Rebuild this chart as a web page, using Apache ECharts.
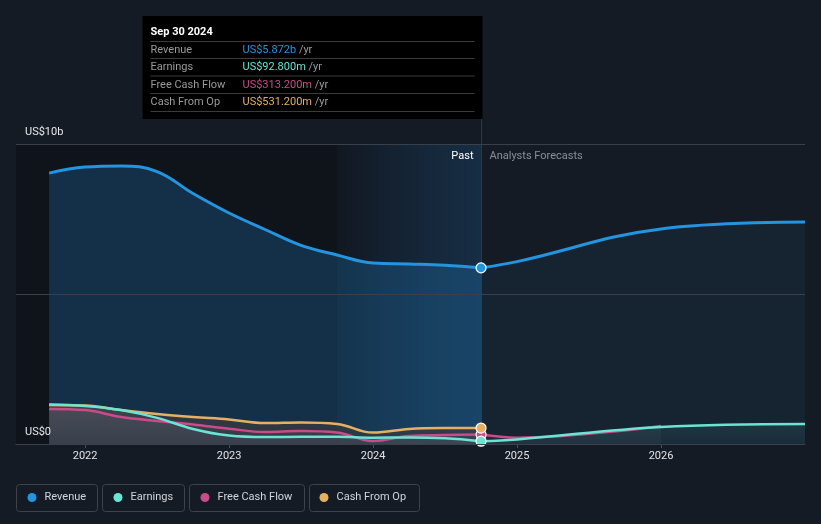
<!DOCTYPE html>
<html><head><meta charset="utf-8">
<script src="https://cdn.jsdelivr.net/npm/echarts@6/dist/echarts.min.js"></script>
<style>html,body{margin:0;padding:0;background:#151b24}#c{width:821px;height:524px}</style>
</head><body><div id="c"></div>
<script>
const pastDates = ['2021-09-30','2021-12-31','2022-03-31','2022-06-30','2022-09-30','2022-12-31','2023-03-31','2023-06-30','2023-09-30','2023-12-31','2024-03-31','2024-06-30','2024-09-30'];
const forecastDates = ['2024-09-30','2024-12-31','2025-12-31','2026-12-31'];
const revenuePast = [9.03, 9.23, 9.27, 9.08, 8.35, 7.70, 7.15, 6.62, 6.30, 6.03, 6.00, 5.96, 5.872];
const revenueForecast = [5.872, 6.08, 7.17, 7.40];
const earningsPast = [1.32, 1.27, 1.13, 0.87, 0.50, 0.28, 0.23, 0.24, 0.24, 0.21, 0.22, 0.19, 0.0928];
const earningsForecast = [0.0928, 0.15, 0.57, 0.67];
const fcfPast = [1.17, 1.13, 0.90, 0.77, 0.65, 0.51, 0.40, 0.43, 0.38, 0.10, 0.27, 0.30, 0.3132];
const fcfForecast = [0.3132, 0.21, 0.60];
const cfoPast = [1.30, 1.28, 1.13, 1.00, 0.90, 0.82, 0.70, 0.72, 0.67, 0.38, 0.50, 0.53, 0.5312];
const xTicks = [2022, 2023, 2024, 2025, 2026];
const seriesNames = ['Revenue', 'Earnings', 'Free Cash Flow', 'Cash From Op'];
const seriesColors = ['#2394df', '#6ae4d3', '#c94b88', '#e6b063'];
const tooltipDate = 'Sep 30 2024';
const tooltipValues = ['US$5.872b', 'US$92.800m', 'US$313.200m', 'US$531.200m'];
const pastLabel = 'Past';
const forecastLabel = 'Analysts Forecasts';

const FONT = 'Roboto, sans-serif';
const FS = 11;
const toYear = d => { const [y, m] = d.split('-').map(Number); return y + m / 12; };
const pair = (dates, vals) => vals.map((v, i) => [toYear(dates[i]), v]);
const lastPast = toYear(pastDates[pastDates.length - 1]);
const xMin = 2021.52, xMax = 2027;

const vgrad = (a, b) => ({type: 'linear', x: 0, y: 0, x2: 0, y2: 1, colorStops: [{offset: 0, color: a}, {offset: 1, color: b}]});

function lineSeries(name, color, data, width, area, z) {
  return {
    name, type: 'line', data, smooth: 0.4, symbol: 'none', z,
    lineStyle: {color, width}, itemStyle: {color},
    areaStyle: area ? {color: area, origin: 0} : undefined,
    silent: true, animation: false
  };
}

const chart = echarts.init(document.getElementById('c'), null, {renderer: 'canvas'});

const series = [
  {
    name: 'bg', type: 'line', data: [[xMin, 0]], symbol: 'none', lineStyle: {opacity: 0}, z: 0, silent: true,
    markArea: {
      silent: true,
      data: [
        [{xAxis: xMin, itemStyle: {color: 'rgba(0,0,0,0.28)'}}, {xAxis: toYear('2023-09-30')}],
        [{xAxis: toYear('2023-09-30'), itemStyle: {color: {type: 'linear', x: 0, y: 0, x2: 1, y2: 0, colorStops: [{offset: 0, color: 'rgba(8,16,26,0.3)'}, {offset: 1, color: 'rgba(30,110,180,0.22)'}]}}}, {xAxis: lastPast}]
      ]
    }
  },
  lineSeries('Revenue', seriesColors[0], pair(pastDates, revenuePast), 3, 'rgba(35,148,223,0.33)', 2),
  lineSeries('Revenue', seriesColors[0], pair(forecastDates, revenueForecast), 3, 'rgba(35,148,223,0.11)', 2),
  lineSeries('Cash From Op', seriesColors[3], pair(pastDates, cfoPast), 2.5, vgrad('rgba(66,61,66,0.97)', 'rgba(56,56,63,0.97)'), 3),
  lineSeries('Free Cash Flow', seriesColors[2], pair(pastDates, fcfPast), 2.5, vgrad('rgba(150,138,150,0.16)', 'rgba(130,130,140,0.1)'), 3),
  lineSeries('Free Cash Flow', seriesColors[2], pair(forecastDates, fcfForecast), 2.5, 'rgba(140,135,150,0.10)', 3),
  lineSeries('Earnings', seriesColors[1], pair(pastDates, earningsPast), 2.5, vgrad('rgba(150,138,150,0.18)', 'rgba(130,130,140,0.1)'), 3),
  lineSeries('Earnings', seriesColors[1], pair(forecastDates, earningsForecast), 2.5, vgrad('rgba(106,228,211,0.14)', 'rgba(106,228,211,0.06)'), 3)
];
const lastVals = [revenuePast, earningsPast, fcfPast, cfoPast].map(a => a[a.length - 1]);
seriesNames.forEach((n, i) => {
  series.push({
    name: n, type: 'scatter', data: [[lastPast, lastVals[i]]], symbol: 'circle', symbolSize: 10, z: i === 1 ? 6 : 5,
    itemStyle: {color: seriesColors[i], borderColor: '#ffffff', borderWidth: 1.2, opacity: 1}, silent: true, animation: false
  });
});

const legendLefts = [27.5, 113.5, 200.5, 319.5];
const legends = seriesNames.map((n, i) => ({
  data: [n], left: legendLefts[i], top: 492, padding: 0, itemWidth: 9, itemHeight: 9, icon: 'circle',
  selectedMode: false, itemStyle: {color: seriesColors[i]},
  textStyle: {color: '#d2d5da', fontSize: FS, fontFamily: FONT, padding: [0, 0, 0, 3]}
}));

chart.setOption({
  backgroundColor: '#151b24',
  animation: false,
  textStyle: {fontFamily: FONT},
  grid: {left: 16, right: 16, top: 144, bottom: 80, containLabel: false},
  legend: legends,
  xAxis: {
    type: 'value', min: xMin, max: xMax,
    axisLine: {lineStyle: {color: '#4a4f57', width: 1}},
    axisTick: {customValues: xTicks, length: 4, lineStyle: {color: '#4a4f57'}},
    axisLabel: {customValues: xTicks, formatter: v => String(v), color: '#e2e4e8', fontSize: FS, margin: 7, fontFamily: FONT},
    splitLine: {show: false}
  },
  yAxis: {
    type: 'value', min: 0, max: 10, interval: 5, z: 8,
    axisLine: {show: false}, axisTick: {show: false},
    splitLine: {lineStyle: {color: '#3a4049', width: 1}},
    axisLabel: {inside: true, formatter: v => v === 10 ? 'US$10b' : (v === 0 ? 'US$0' : ''), color: '#e6e8ea', fontSize: FS, verticalAlign: 'bottom', margin: 9, padding: [0, 0, 6, 0], fontFamily: FONT}
  },
  series
});

// decorations anchored to the last reported point
const pTop = chart.convertToPixel({xAxisIndex: 0, yAxisIndex: 0}, [lastPast, 10]);
const pBot = chart.convertToPixel({xAxisIndex: 0, yAxisIndex: 0}, [lastPast, 0]);
const px = Math.round(pTop[0]) + 0.5;
const boxTop = 16, boxW = 340, boxH = 103;
const boxLeft = px - boxW + 1;
const g = [];
g.push({type: 'line', silent: true, z: 1, shape: {x1: px, y1: boxTop, x2: px, y2: pBot[1]}, style: {stroke: 'rgba(35,148,223,0.28)', lineWidth: 1}});
g.push({type: 'rect', silent: true, z: 10, shape: {x: boxLeft, y: boxTop, width: boxW, height: boxH}, style: {fill: '#000000'}});
g.push({type: 'text', silent: true, z: 11, x: boxLeft + 8, y: 32, style: {text: tooltipDate, fill: '#ffffff', font: 'bold ' + FS + 'px ' + FONT, verticalAlign: 'middle'}});
const rowY = [50, 67, 85, 102];
const sepY = [41, 58, 75.5, 93, 111];
sepY.forEach(y => g.push({type: 'line', silent: true, z: 11, shape: {x1: boxLeft + 8, y1: y + 0.5, x2: boxLeft + boxW - 8, y2: y + 0.5}, style: {stroke: '#3b3b3b', lineWidth: 1}}));
seriesNames.forEach((n, i) => {
  g.push({type: 'text', silent: true, z: 11, x: boxLeft + 8, y: rowY[i], style: {text: n, fill: '#9a9a9a', font: FS + 'px ' + FONT, verticalAlign: 'middle'}});
  g.push({type: 'text', silent: true, z: 11, x: boxLeft + 100, y: rowY[i], style: {rich: {v: {fill: seriesColors[i], font: FS + 'px ' + FONT}, u: {fill: '#9a9a9a', font: FS + 'px ' + FONT}}, text: '{v|' + tooltipValues[i] + '}{u| /yr}', verticalAlign: 'middle'}});
});
g.push({type: 'text', silent: true, z: 11, x: px - 8, y: pTop[1] + 12, style: {text: pastLabel, fill: '#ffffff', font: FS + 'px ' + FONT, align: 'right', verticalAlign: 'middle'}});
g.push({type: 'text', silent: true, z: 11, x: px + 8, y: pTop[1] + 12, style: {text: forecastLabel, fill: '#8a8f97', font: FS + 'px ' + FONT, align: 'left', verticalAlign: 'middle'}});
const legendBoxes = [[16, 81], [102, 82], [189, 115], [309, 110]];
legendBoxes.forEach(([x, w]) => g.push({type: 'rect', silent: true, z: 0, shape: {x: x + 0.5, y: 484.5, width: w, height: 27, r: 3}, style: {fill: 'none', stroke: '#3d424b', lineWidth: 1}}));
chart.setOption({graphic: g});
</script>
</body></html>
